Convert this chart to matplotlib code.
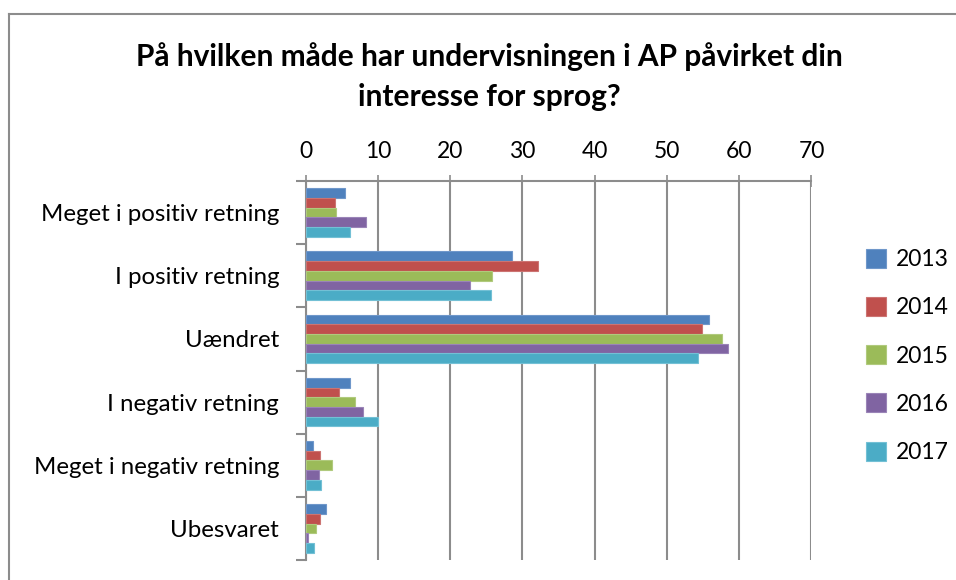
import matplotlib
matplotlib.use("Agg")
import matplotlib.pyplot as plt
import numpy as np

plt.rcParams['font.family'] = ['Lato', 'DejaVu Sans']

categories = ["Meget i positiv retning", "I positiv retning", "Uændret",
              "I negativ retning", "Meget i negativ retning", "Ubesvaret"]
years = ["2013", "2014", "2015", "2016", "2017"]
v2013 = [5.4, 28.5, 55.8, 6.1, 1.0, 2.9]
v2014 = [4.1, 32.2, 54.8, 4.6, 2.0, 2.0]
v2015 = [4.2, 25.8, 57.6, 6.9, 3.7, 1.5]
v2016 = [8.3, 22.8, 58.4, 7.9, 1.8, 0.3]
v2017 = [6.1, 25.7, 54.3, 10.0, 2.2, 1.2]
series = [v2013, v2014, v2015, v2016, v2017]
colors = ["#4F81BD", "#C0504D", "#9BBB59", "#8064A2", "#4BACC6"]
edges = ["#6F97CA", "#CC7472", "#B0CA7D", "#9A84B7", "#73C0D5"]

fig = plt.figure(figsize=(9.56, 5.8), dpi=100)
# outer chart frame (left and top edges visible)
fig.add_artist(plt.Line2D([0.0095, 0.0095], [0, 0.976], color="#8C8C8C", lw=1.5))
fig.add_artist(plt.Line2D([0.0095, 1.0], [0.976, 0.976], color="#8C8C8C", lw=1.5))

ax = fig.add_axes([0.3196, 0.0345, 0.8488 - 0.3196, 0.6879 - 0.0345])
n = len(series)
bw = 1.0 / (n + 1.5)
y = np.arange(len(categories))
for i, (vals, c, e, lab) in enumerate(zip(series, colors, edges, years)):
    off = (i - (n - 1) / 2) * bw
    ax.barh(y + off, vals, height=bw, color=c, edgecolor=e, linewidth=0.8,
            label=lab, zorder=3)

ax.set_xlim(0, 70)
ax.set_ylim(len(categories) - 0.5, -0.5)
ax.xaxis.tick_top()
ax.set_xticks(np.arange(0, 71, 10))
ax.grid(axis='x', color="#8C8C8C", lw=1.5, zorder=0)
ax.tick_params(axis='x', direction='inout', length=9, width=1.2, color="#8C8C8C",
               labelsize=16.5, pad=9)
for s in ['right', 'bottom']:
    ax.spines[s].set_visible(False)
ax.spines['top'].set_color("#8C8C8C")
ax.spines['top'].set_linewidth(1.5)
ax.spines['left'].set_color("#8C8C8C")
ax.spines['left'].set_linewidth(1.5)

ax.set_yticks(y)
ax.set_yticklabels(categories)
ax.tick_params(axis='y', length=0, labelsize=17.3, pad=19)
ax.set_yticks(np.arange(-0.5, len(categories)), minor=True)
ax.tick_params(axis='y', which='minor', length=7, width=1.5, color="#8C8C8C")

handles, labels = ax.get_legend_handles_labels()
leg = fig.legend(handles, labels, loc='upper left', bbox_to_anchor=(0.896, 0.587),
                 frameon=False, fontsize=16.5, handlelength=0.9, handleheight=0.9,
                 handletextpad=0.4, labelspacing=1.17, borderaxespad=0)

fig.text(0.5115, 0.868,
         "På hvilken måde har undervisningen i AP påvirket din\ninteresse for sprog?",
         ha='center', va='center', fontsize=21.5, fontweight='bold', linespacing=1.5)

fig.savefig("out.png", dpi=100)
